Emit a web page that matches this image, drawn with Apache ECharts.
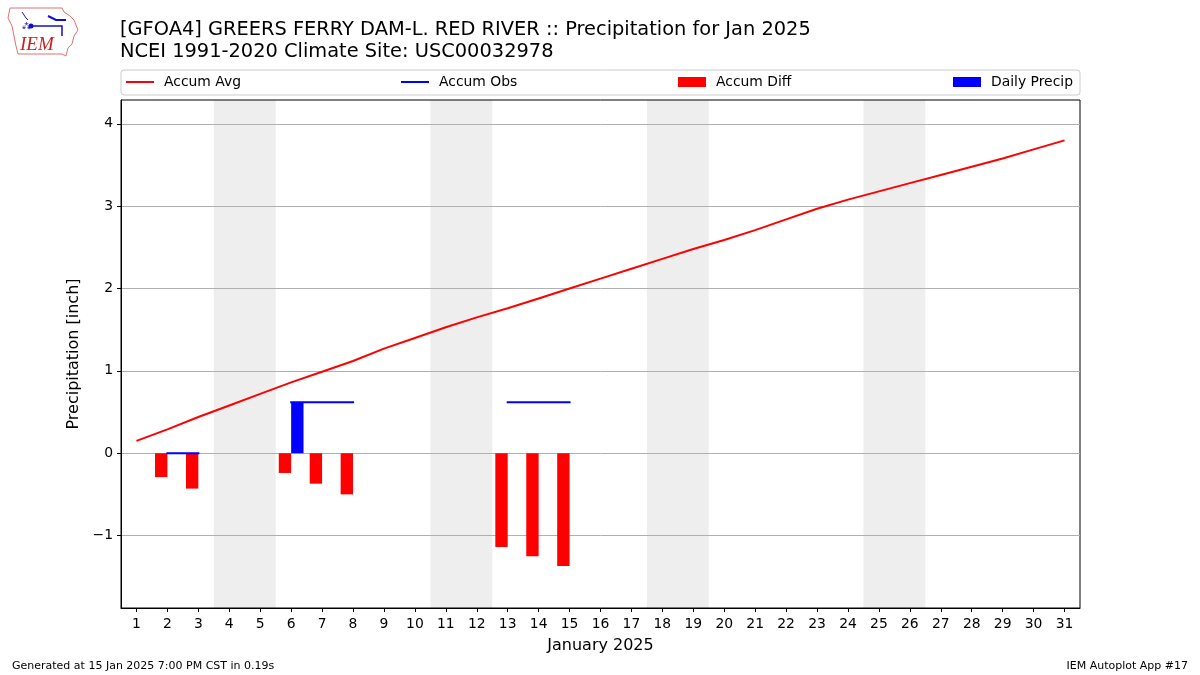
<!DOCTYPE html>
<html>
<head>
<meta charset="utf-8">
<script src="https://cdn.jsdelivr.net/npm/echarts@6/dist/echarts.min.js"></script>
<style>
html,body{margin:0;padding:0;background:#fff;}
#chart{width:1200px;height:675px;}
</style>
</head>
<body>
<div id="chart"></div>
<script>
// ---- data ----
const days = Array.from({length: 31}, (_, i) => String(i + 1));
const accumAvg = [0.15, 0.29, 0.44, 0.58, 0.72, 0.86, 0.99, 1.12, 1.27, 1.40,
                  1.53, 1.65, 1.76, 1.88, 2.00, 2.12, 2.24, 2.36, 2.48, 2.59,
                  2.71, 2.84, 2.97, 3.08, 3.18, 3.28, 3.38, 3.48, 3.58, 3.69, 3.80];
const accumObs = [null, 0.00, 0.00, null, null, 0.62, 0.62, 0.62, null, null,
                  null, null, 0.62, 0.62, 0.62, null, null, null, null, null,
                  null, null, null, null, null, null, null, null, null, null, null];
const accumDiff = [null, -0.29, -0.43, null, null, -0.24, -0.37, -0.50, null, null,
                   null, null, -1.14, -1.25, -1.37, null, null, null, null, null,
                   null, null, null, null, null, null, null, null, null, null, null];
const dailyPrecip = [null, 0.00, 0.00, null, null, 0.62, 0.00, 0.00, null, null,
                     null, null, 0.00, 0.00, 0.00, null, null, null, null, null,
                     null, null, null, null, null, null, null, null, null, null, null];
const weekendDays = [4, 5, 11, 12, 18, 19, 25, 26];
const yTicks = [-1, 0, 1, 2, 3, 4];
const titleLines = ['[GFOA4] GREERS FERRY DAM-L. RED RIVER :: Precipitation for Jan 2025',
                    'NCEI 1991-2020 Climate Site: USC00032978'];
const xAxisName = 'January 2025';
const yAxisName = 'Precipitation [inch]';
const footerLeft = 'Generated at 15 Jan 2025 7:00 PM CST in 0.19s';
const footerRight = 'IEM Autoplot App #17';

const FONT = 'DejaVu Sans';
const chart = echarts.init(document.getElementById('chart'), null, {renderer: 'canvas'});

// merge consecutive weekend days into single shaded spans
const weekendRanges = [];
weekendDays.forEach(d => {
  const last = weekendRanges[weekendRanges.length - 1];
  if (last && Math.abs(last[1] - (d - 0.5)) < 1e-9) last[1] = d + 0.5;
  else weekendRanges.push([d - 0.5, d + 0.5]);
});
const fmtMinus = v => String(v).replace('-', '\u2212');

function legendFor(name, left, icon, h) {
  return {
    data: [name], left: left, top: 75, icon: icon, itemWidth: 28, itemHeight: h,
    itemGap: 0, padding: 0,
    textStyle: {fontFamily: FONT, fontSize: 13.9, color: '#000', padding: [0, 0, 0, 5]}
  };
}

const option = {
  animation: false,
  backgroundColor: '#fff',
  title: {
    text: titleLines.join('\n'), left: 115, top: 14,
    textStyle: {fontFamily: FONT, fontSize: 19.4, fontWeight: 'normal', color: '#000', lineHeight: 22}
  },
  legend: [
    legendFor('Accum Avg', 126, 'rect', 2),
    legendFor('Accum Obs', 401, 'rect', 2),
    legendFor('Accum Diff', 678, 'rect', 10),
    legendFor('Daily Precip', 953, 'rect', 10)
  ],
  grid: {left: 121, top: 100, right: 120, bottom: 67, show: true, borderColor: '#000', borderWidth: 1, containLabel: false},
  xAxis: [{
    type: 'category', data: days, boundaryGap: true, position: 'bottom',
    name: xAxisName, nameLocation: 'middle', nameGap: 30,
    nameTextStyle: {fontFamily: FONT, fontSize: 16, color: '#000'},
    axisLine: {show: true, onZero: false, lineStyle: {color: '#000', width: 1}},
    axisTick: {show: true, alignWithLabel: true, length: 4, lineStyle: {color: '#000'}},
    axisLabel: {interval: 0, fontFamily: FONT, fontSize: 13.9, color: '#000', margin: 9},
    splitLine: {show: false}
  }, {
    type: 'value', min: 0.5, max: 31.5, show: false
  }],
  yAxis: {
    type: 'value', min: -1.88, max: 4.29,
    name: yAxisName, nameLocation: 'middle', nameGap: 36,
    nameTextStyle: {fontFamily: FONT, fontSize: 16, color: '#000'},
    axisLine: {show: true, onZero: false, lineStyle: {color: '#000', width: 1}},
    axisTick: {show: true, length: 4, lineStyle: {color: '#000'}, customValues: yTicks},
    axisLabel: {fontFamily: FONT, fontSize: 13.9, color: '#000', margin: 8, formatter: fmtMinus,
                customValues: yTicks},
    splitLine: {show: true, lineStyle: {color: '#b0b0b0', width: 1}}
  },
  series: [
    {
      type: 'custom', name: 'weekend', xAxisIndex: 1, yAxisIndex: 0, z: -1, silent: true,
      data: weekendRanges,
      renderItem: function (params, api) {
        const p0 = api.coord([api.value(0), 0]);
        const p1 = api.coord([api.value(1), 0]);
        const cs = params.coordSys;
        return {type: 'rect', shape: {x: p0[0], y: cs.y, width: p1[0] - p0[0], height: cs.height},
                style: {fill: '#eeeeee'}};
      }
    },
    {
      name: 'Accum Avg', type: 'line', data: accumAvg, symbol: 'none',
      lineStyle: {color: '#ff0000', width: 2}, itemStyle: {color: '#ff0000'}, z: 3
    },
    {
      name: 'Accum Obs', type: 'line', data: accumObs, symbol: 'none', connectNulls: false,
      lineStyle: {color: '#0000ff', width: 2, cap: 'square'}, itemStyle: {color: '#0000ff'}, z: 3
    },
    {
      name: 'Accum Diff', type: 'bar', data: accumDiff, barWidth: '40%', barGap: '0%',
      itemStyle: {color: '#ff0000'}
    },
    {
      name: 'Daily Precip', type: 'bar', data: dailyPrecip, barWidth: '40%', barGap: '0%',
      itemStyle: {color: '#0000ff'}
    }
  ],
  graphic: [
    {type: 'rect', z: -10, shape: {x: 121, y: 70, width: 959, height: 25, r: 3},
     style: {fill: '#fff', stroke: '#cccccc', lineWidth: 1}},
    {type: 'text', left: 12, top: 661, style: {text: footerLeft, fontFamily: FONT, fontSize: 11, fill: '#000'}},
    {type: 'text', right: 12, top: 661, style: {text: footerRight, fontFamily: FONT, fontSize: 11, fill: '#000'}},
    // logo
    {type: 'polyline', shape: {points: [[10,8],[62,8],[64,12],[70,16],[74,20],[78,30],[74,36],[72,44],[68,48],[66,56],[62,54],[18,54],[16,46],[14,36],[12,26],[8,18],[10,8]]},
     style: {fill: 'none', stroke: '#e07070', lineWidth: 1}},
    {type: 'text', left: 20, top: 35, style: {text: 'IEM', fontFamily: 'Liberation Serif', fontStyle: 'italic', fontSize: 19, fill: '#cc2020'}},
    {type: 'polyline', shape: {points: [[30,26],[62,26],[62,36]]}, style: {fill: 'none', stroke: '#1010cc', lineWidth: 1.5}},
    {type: 'circle', shape: {cx: 31, cy: 26, r: 2.5}, style: {fill: '#1010cc'}},
    {type: 'polyline', shape: {points: [[48,16],[56,20],[66,20]]}, style: {fill: 'none', stroke: '#1010cc', lineWidth: 2}},
    {type: 'polyline', shape: {points: [[22,12],[26,18],[28,20]]}, style: {fill: 'none', stroke: '#1010cc', lineWidth: 1}},
    {type: 'text', left: 22, top: 22, style: {text: '⁂', fontSize: 8, fill: '#1010cc'}}
  ]
};
chart.setOption(option);
</script>
</body>
</html>
